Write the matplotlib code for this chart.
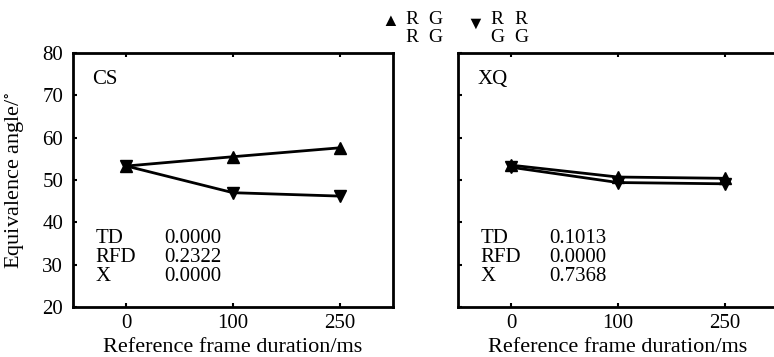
import matplotlib
matplotlib.use("Agg")
import matplotlib.pyplot as plt

plt.rcParams['font.family'] = ['Liberation Serif', 'DejaVu Serif']
plt.rcParams['mathtext.fontset'] = 'stix'

# Data
durations = ["0", "100", "250"]
cs_up = [53.3, 55.5, 57.6]
cs_down = [53.3, 47.0, 46.2]
xq_up = [53.5, 50.7, 50.4]
xq_down = [53.0, 49.4, 49.1]
panel_names = ["CS", "XQ"]
stat_names = ["TD", "RFD", "X"]
cs_stats = ["0.0000", "0.2322", "0.0000"]
xq_stats = ["0.1013", "0.0000", "0.7368"]

fig = plt.figure(figsize=(7.74, 3.57), dpi=100)
ax1 = fig.add_axes([73 / 774, 50 / 357, 320 / 774, 254 / 357])
ax2 = fig.add_axes([458 / 774, 50 / 357, 320 / 774, 254 / 357])

x = range(len(durations))
panels = [
    (ax1, cs_up, cs_down, panel_names[0], cs_stats),
    (ax2, xq_up, xq_down, panel_names[1], xq_stats),
]

for ax, up, down, name, stats in panels:
    ax.plot(x, down, color='black', lw=2, marker='v', ms=9, zorder=3)
    ax.plot(x, up, color='black', lw=2, marker='^', ms=9, zorder=3)
    ax.set_xlim(-0.5, 2.5)
    ax.set_ylim(20, 80)
    ax.set_xticks(list(x))
    ax.set_xticklabels(durations)
    ax.set_yticks([20, 30, 40, 50, 60, 70, 80])
    ax.tick_params(direction='in', length=3, width=1.5, labelsize=15,
                   top=True)
    ax.tick_params(axis='x', pad=5)
    ax.tick_params(axis='y', pad=7)
    for sp in ax.spines.values():
        sp.set_linewidth(2)
    ax.set_xlabel("Reference frame duration/ms", fontsize=16)
    ax.xaxis.set_label_coords(0.5, -0.122)
    ax.text(0.06, 0.894, name, transform=ax.transAxes, fontsize=15,
            va='center', ha='left')
    for i, (sn, sv) in enumerate(zip(stat_names, stats)):
        yy = 0.268 - i * 0.073
        ax.text(0.07, yy, sn, transform=ax.transAxes, fontsize=15,
                va='center', ha='left')
        ax.text(0.285, yy, sv, transform=ax.transAxes, fontsize=15,
                va='center', ha='left')

ax2.set_yticklabels([])
ax1.set_ylabel("Equivalence angle/$^{\\circ}$", fontsize=16)
ax1.yaxis.set_label_coords(-0.145, 0.5)

# Legend at top
fig.text(390 / 774, 1 - 22 / 357, "\u25b2", fontsize=13, ha='center', va='center')
fig.text(475 / 774, 1 - 24 / 357, "\u25bc", fontsize=13, ha='center', va='center')
legend_rows = [("R", "G", "R", "R"), ("R", "G", "G", "G")]
letter_x = [412, 435, 497, 521]
for row, yy in zip(legend_rows, [19, 38]):
    for ch, xx in zip(row, letter_x):
        fig.text(xx / 774, 1 - yy / 357, ch, fontsize=14, ha='center', va='center')

fig.savefig("out.png", dpi=100)
